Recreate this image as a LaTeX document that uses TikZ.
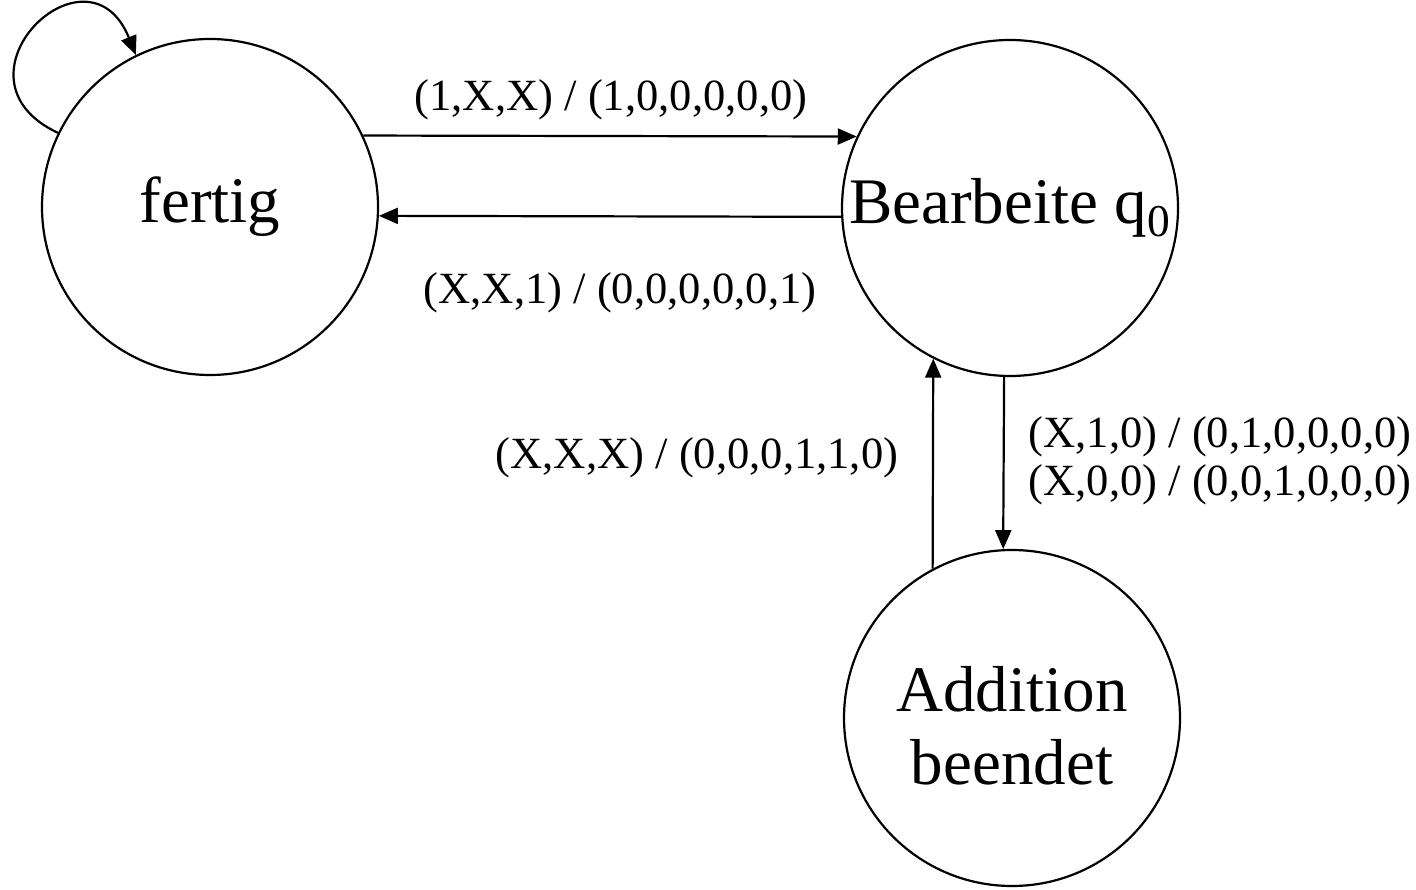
\documentclass[tikz,border=0pt]{standalone}
\usepackage{fontspec}
\setmainfont{Liberation Serif}
\usetikzlibrary{arrows.meta}

\begin{document}
\begin{tikzpicture}[x=0.5pt,y=0.5pt,>={Triangle[length=9.5pt,width=8pt]},line width=1.1pt,
  st/.style={draw,circle,minimum size=168pt,inner sep=0pt,align=center,font=\fontsize{32.5}{36.5}\selectfont},
  lbl/.style={font=\fontsize{22.3}{24}\selectfont,inner sep=0pt,align=left}]
\useasboundingbox (0,0) rectangle (1416,889);
% states
\node[st] (fertig) at (210,682) {fertig};
\node[st] (bear) at (1010,681) {Bearbeite q\textsubscript{0}};
\node[st] (add) at (1012,171) {\\[-6pt]Addition\\beendet};
% transitions
\draw[->] (fertig.154) to[out=155,in=112,looseness=3] (fertig.116);
\draw[->] (fertig.25) -- (bear.155);
\draw[->] (bear.183) -- (fertig.-3);
\draw[->] (bear.268) -- (add.93);
\draw[->] (add.118) -- (bear.243);
% labels
\node[lbl] (l1) at (611,789) {(1,X,X) / (1,0,0,0,0,0)};
\node[lbl] (l2) at (620,596) {(X,X,1) / (0,0,0,0,0,1)};
\node[lbl] (l3) at (697,431) {(X,X,X) / (0,0,0,1,1,0)};
\node[lbl] (l4) at (1220,428) {(X,1,0) / (0,1,0,0,0,0)\\(X,0,0) / (0,0,1,0,0,0)};
\end{tikzpicture}
\end{document}
